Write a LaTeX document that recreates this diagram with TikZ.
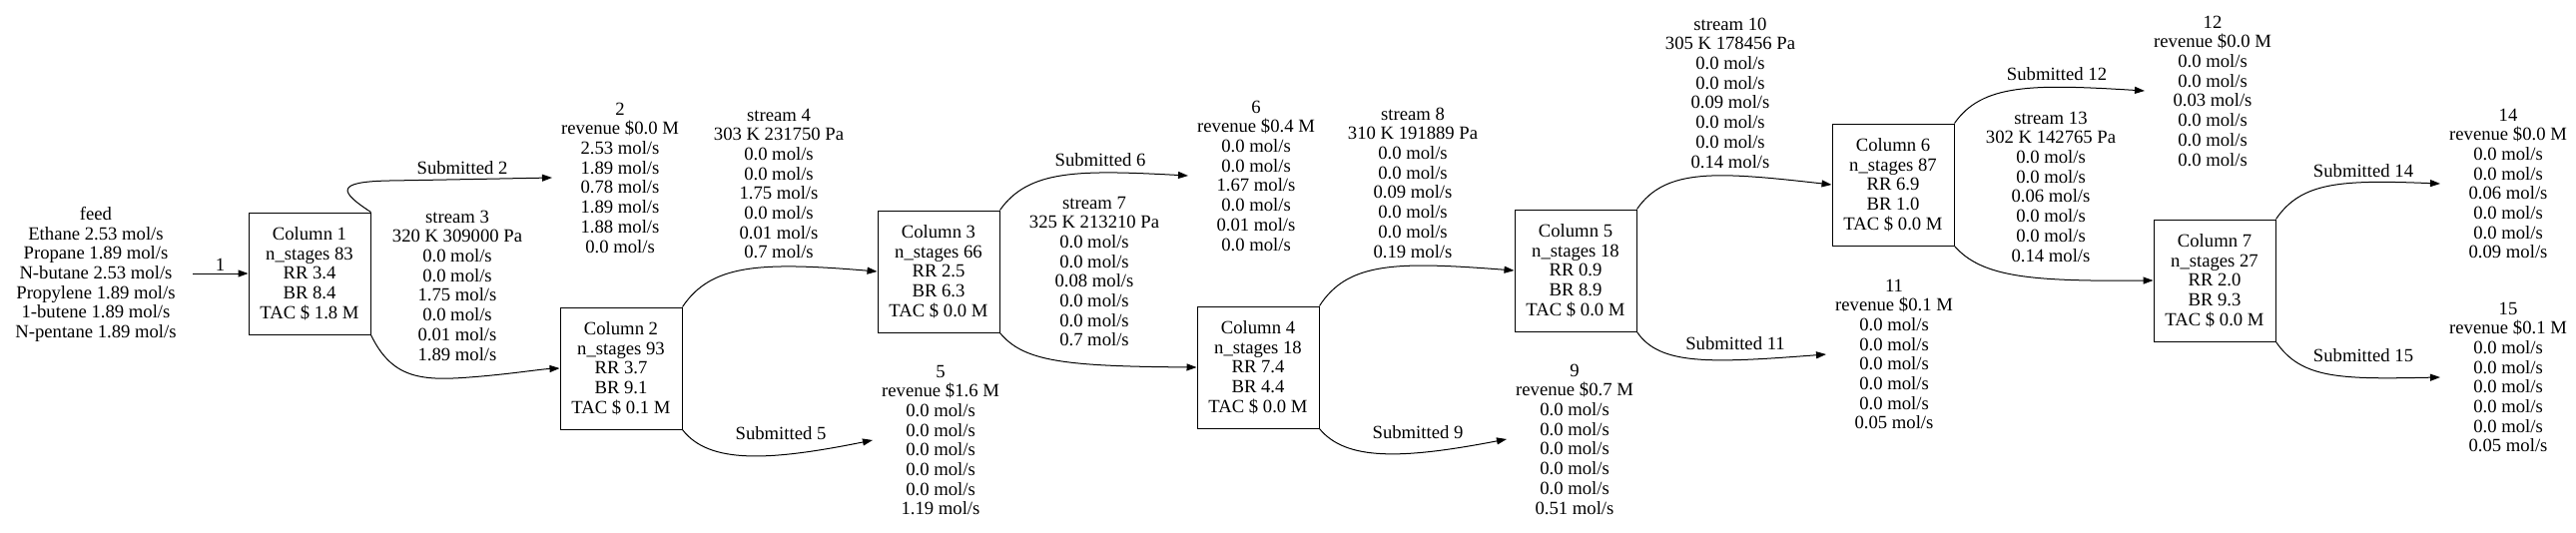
\documentclass[tikz,border=0pt]{standalone}
\usepackage{fontspec}
\setmainfont{Liberation Serif}
\usetikzlibrary{arrows.meta}
\begin{document}
\begin{tikzpicture}[x=1pt,y=-1pt,
  txt/.style={font=\fontsize{18.67}{19.7}\selectfont,align=center,inner sep=0pt},
  column/.style={txt,draw,line width=1pt,minimum width=122pt,minimum height=122pt},
  product/.style={txt,inner xsep=9pt},
  flow/.style={line width=1pt,-{Triangle[length=10pt,width=7pt]}}]
\useasboundingbox (0,0) rectangle (2580,533);
% feed
\node[txt,inner xsep=16pt] (feed) at (96,275) {feed\\ Ethane 2.53 mol/s\\ Propane 1.89 mol/s\\ N-butane 2.53 mol/s\\ Propylene 1.89 mol/s\\ 1-butene 1.89 mol/s\\ N-pentane 1.89 mol/s};
% columns
\node[column] (c1) at (310,274) {Column 1\\ n\_stages 83\\ RR 3.4\\ BR 8.4\\ TAC \$ 1.8 M};
\node[column] (c2) at (622,369) {Column 2\\ n\_stages 93\\ RR 3.7\\ BR 9.1\\ TAC \$ 0.1 M};
\node[column] (c3) at (940,272) {Column 3\\ n\_stages 66\\ RR 2.5\\ BR 6.3\\ TAC \$ 0.0 M};
\node[column] (c4) at (1260,368) {Column 4\\ n\_stages 18\\ RR 7.4\\ BR 4.4\\ TAC \$ 0.0 M};
\node[column] (c5) at (1578,271) {Column 5\\ n\_stages 18\\ RR 0.9\\ BR 8.9\\ TAC \$ 0.0 M};
\node[column] (c6) at (1896,185) {Column 6\\ n\_stages 87\\ RR 6.9\\ BR 1.0\\ TAC \$ 0.0 M};
\node[column] (c7) at (2218,281) {Column 7\\ n\_stages 27\\ RR 2.0\\ BR 9.3\\ TAC \$ 0.0 M};
% products
\node[product] (p2) at (621,178) {2\\ revenue \$0.0 M\\ 2.53 mol/s\\ 1.89 mol/s\\ 0.78 mol/s\\ 1.89 mol/s\\ 1.88 mol/s\\ 0.0 mol/s};
\node[product] (p5) at (942,441) {5\\ revenue \$1.6 M\\ 0.0 mol/s\\ 0.0 mol/s\\ 0.0 mol/s\\ 0.0 mol/s\\ 0.0 mol/s\\ 1.19 mol/s};
\node[product] (p6) at (1258,176) {6\\ revenue \$0.4 M\\ 0.0 mol/s\\ 0.0 mol/s\\ 1.67 mol/s\\ 0.0 mol/s\\ 0.01 mol/s\\ 0.0 mol/s};
\node[product] (p9) at (1577,440) {9\\ revenue \$0.7 M\\ 0.0 mol/s\\ 0.0 mol/s\\ 0.0 mol/s\\ 0.0 mol/s\\ 0.0 mol/s\\ 0.51 mol/s};
\node[product] (p11) at (1897,355) {11\\ revenue \$0.1 M\\ 0.0 mol/s\\ 0.0 mol/s\\ 0.0 mol/s\\ 0.0 mol/s\\ 0.0 mol/s\\ 0.05 mol/s};
\node[product] (p12) at (2216,91) {12\\ revenue \$0.0 M\\ 0.0 mol/s\\ 0.0 mol/s\\ 0.03 mol/s\\ 0.0 mol/s\\ 0.0 mol/s\\ 0.0 mol/s};
\node[product] (p14) at (2512,184) {14\\ revenue \$0.0 M\\ 0.0 mol/s\\ 0.0 mol/s\\ 0.06 mol/s\\ 0.0 mol/s\\ 0.0 mol/s\\ 0.09 mol/s};
\node[product] (p15) at (2512,378) {15\\ revenue \$0.1 M\\ 0.0 mol/s\\ 0.0 mol/s\\ 0.0 mol/s\\ 0.0 mol/s\\ 0.0 mol/s\\ 0.05 mol/s};
% stream labels
\node[txt] (s3) at (458,286) {stream 3\\ 320 K 309000 Pa\\ 0.0 mol/s\\ 0.0 mol/s\\ 1.75 mol/s\\ 0.0 mol/s\\ 0.01 mol/s\\ 1.89 mol/s};
\node[txt] (s4) at (780,184) {stream 4\\ 303 K 231750 Pa\\ 0.0 mol/s\\ 0.0 mol/s\\ 1.75 mol/s\\ 0.0 mol/s\\ 0.01 mol/s\\ 0.7 mol/s};
\node[txt] (s7) at (1096,272) {stream 7\\ 325 K 213210 Pa\\ 0.0 mol/s\\ 0.0 mol/s\\ 0.08 mol/s\\ 0.0 mol/s\\ 0.0 mol/s\\ 0.7 mol/s};
\node[txt] (s8) at (1415,183) {stream 8\\ 310 K 191889 Pa\\ 0.0 mol/s\\ 0.0 mol/s\\ 0.09 mol/s\\ 0.0 mol/s\\ 0.0 mol/s\\ 0.19 mol/s};
\node[txt] (s10) at (1733,93) {stream 10\\ 305 K 178456 Pa\\ 0.0 mol/s\\ 0.0 mol/s\\ 0.09 mol/s\\ 0.0 mol/s\\ 0.0 mol/s\\ 0.14 mol/s};
\node[txt] (s13) at (2054,187) {stream 13\\ 302 K 142765 Pa\\ 0.0 mol/s\\ 0.0 mol/s\\ 0.06 mol/s\\ 0.0 mol/s\\ 0.0 mol/s\\ 0.14 mol/s};
% submitted labels
\node[txt] (l2) at (463,168) {Submitted 2};
\node[txt] (l5) at (782,434) {Submitted 5};
\node[txt] (l6) at (1102,160) {Submitted 6};
\node[txt] (l9) at (1420,433) {Submitted 9};
\node[txt] (l11) at (1738,344) {Submitted 11};
\node[txt] (l12) at (2060,74) {Submitted 12};
\node[txt] (l14) at (2367,171) {Submitted 14};
\node[txt] (l15) at (2367,356) {Submitted 15};
% connectors
\draw[flow] (feed.east |- c1.west) -- node[txt,above=2pt] {1} (c1.west);
\draw[flow] (c1.north east) .. controls (340,192) and (335,182) .. (390,181) .. controls (450,180) and (500,179) .. (p2.west);
\draw[flow] (c1.south east) .. controls (392,378) and (420,382) .. (470,378) .. controls (510,375) and (540,370) .. (c2.west);
\draw[flow] (c2.north east) .. controls (712,265) and (760,262) .. (c3.west);
\draw[flow] (c2.south east) .. controls (710,465) and (770,462) .. (p5.west);
\draw[flow] (c3.north east) .. controls (1030,170) and (1080,170) .. (p6.west);
\draw[flow] (c3.south east) .. controls (1025,362) and (1065,367) .. (c4.west);
\draw[flow] (c4.north east) .. controls (1350,262) and (1400,262) .. (c5.west);
\draw[flow] (c4.south east) .. controls (1348,462) and (1405,460) .. (p9.west);
\draw[flow] (c5.north east) .. controls (1668,168) and (1720,172) .. (c6.west);
\draw[flow] (c5.south east) .. controls (1662,366) and (1712,364) .. (p11.west);
\draw[flow] (c6.north east) .. controls (1985,84) and (2035,84) .. (p12.west);
\draw[flow] (c6.south east) .. controls (1985,278) and (2035,282) .. (c7.west);
\draw[flow] (c7.north east) .. controls (2305,182) and (2345,180) .. (p14.west);
\draw[flow] (c7.south east) .. controls (2305,380) and (2345,380) .. (p15.west);
\end{tikzpicture}
\end{document}
